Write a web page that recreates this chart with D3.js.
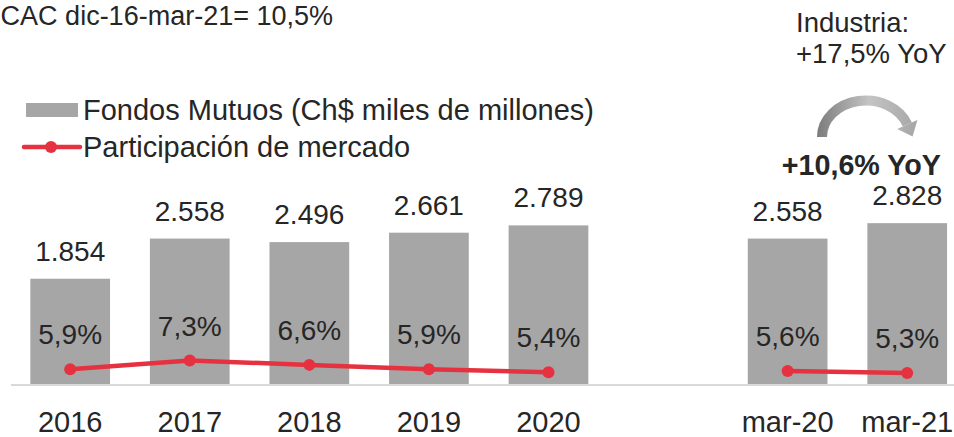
<!DOCTYPE html>
<html>
<head>
<meta charset="utf-8">
<script src="https://cdn.jsdelivr.net/npm/d3@7"></script>
<style>
  html, body { margin: 0; padding: 0; background: #fff; }
  svg { display: block; font-family: "Liberation Sans", Arial, sans-serif; }
</style>
</head>
<body>
<svg id="chart" width="954" height="437"></svg>
<script>
// ---- data ----
const categories = ["2016", "2017", "2018", "2019", "2020", "mar-20", "mar-21"];
const fondos = [1854, 2558, 2496, 2661, 2789, 2558, 2828];      // Ch$ miles de millones
const participacion = [5.9, 7.3, 6.6, 5.9, 5.4, 5.6, 5.3];      // %
const lineGroups = [["2016", "2017", "2018", "2019", "2020"], ["mar-20", "mar-21"]];
const titleText = "CAC dic-16-mar-21= 10,5%";
const legendLabels = ["Fondos Mutuos (Ch$ miles de millones)", "Participación de mercado"];
const industriaText = ["Industria:", "+17,5% YoY"];
const yoyText = "+10,6% YoY";

// ---- setup ----
const svg = d3.select("#chart");
const barColor = "#a6a6a6";
const red = "#e63240";
const textColor = "#262626";
const fs = 28;

const locale = d3.formatLocale({ decimal: ",", thousands: ".", grouping: [3], currency: ["$", ""] });
const fmtInt = locale.format(",d");
const fmtPct = v => locale.format(".1f")(v) + "%";

const slots = categories.slice(0, 5).concat(["_gap"], categories.slice(5));
const x = d3.scaleBand().domain(slots).range([10.4, 967]).paddingInner(1 / 3).paddingOuter(1 / 6);
const y = d3.scaleLinear().domain([0, 6000]).range([384.5, 42.2]);
const y2 = d3.scaleLinear().domain([0, 10]).range([405.8, 343.8]);

const rows = categories.map((c, i) => ({ c, v: fondos[i], p: participacion[i] }));

// bars
svg.append("g").selectAll("rect").data(rows).join("rect")
  .attr("x", d => x(d.c))
  .attr("y", d => y(d.v))
  .attr("width", x.bandwidth())
  .attr("height", d => y(0) - y(d.v))
  .attr("fill", barColor);

// axis
const axis = svg.append("g")
  .attr("transform", `translate(0,${y(0)})`)
  .call(d3.axisBottom(x).tickValues(categories).tickSize(0).tickPadding(27));
axis.select(".domain").attr("stroke", "#d9d9d9").attr("stroke-width", 2);
axis.selectAll("text").attr("font-size", 29).attr("fill", textColor)
  .attr("font-family", "Liberation Sans, Arial, sans-serif");

// bar value labels
svg.append("g").selectAll("text").data(rows).join("text")
  .attr("x", d => x(d.c) + x.bandwidth() / 2)
  .attr("y", d => y(d.v) - 18)
  .attr("text-anchor", "middle")
  .attr("font-size", fs)
  .attr("fill", textColor)
  .text(d => fmtInt(d.v));

// line segments
const line = d3.line().x(d => x(d.c) + x.bandwidth() / 2).y(d => y2(d.p));
lineGroups.forEach(g => {
  const seg = rows.filter(r => g.includes(r.c));
  svg.append("path").datum(seg)
    .attr("d", line)
    .attr("fill", "none")
    .attr("stroke", red)
    .attr("stroke-width", 4.5)
    .attr("stroke-linejoin", "round");
});
svg.append("g").selectAll("circle").data(rows).join("circle")
  .attr("cx", d => x(d.c) + x.bandwidth() / 2)
  .attr("cy", d => y2(d.p))
  .attr("r", 6)
  .attr("fill", red);

// percentage labels
svg.append("g").selectAll("text").data(rows).join("text")
  .attr("x", d => x(d.c) + x.bandwidth() / 2)
  .attr("y", d => y2(d.p) - 25)
  .attr("text-anchor", "middle")
  .attr("font-size", fs)
  .attr("fill", textColor)
  .text(d => fmtPct(d.p));

// title
svg.append("text").attr("x", 333).attr("y", 25).attr("text-anchor", "end")
  .attr("font-size", 27).attr("fill", textColor).text(titleText);

// legend
svg.append("rect").attr("x", 26).attr("y", 103).attr("width", 52).attr("height", 14).attr("fill", barColor);
svg.append("text").attr("x", 83).attr("y", 120).attr("font-size", 29).attr("fill", textColor).text(legendLabels[0]);
svg.append("line").attr("x1", 24).attr("x2", 80).attr("y1", 147).attr("y2", 147)
  .attr("stroke", red).attr("stroke-width", 4.5).attr("stroke-linecap", "round");
svg.append("circle").attr("cx", 51).attr("cy", 147).attr("r", 6).attr("fill", red);
svg.append("text").attr("x", 83).attr("y", 157).attr("font-size", 29).attr("fill", textColor).text(legendLabels[1]);

// industria annotation
svg.append("text").attr("x", 796).attr("y", 32).attr("font-size", 27.5).attr("fill", textColor).text(industriaText[0]);
svg.append("text").attr("x", 796).attr("y", 63).attr("font-size", 27.5).attr("fill", textColor).text(industriaText[1]);
svg.append("text").attr("x", 941).attr("y", 175).attr("text-anchor", "end")
  .attr("font-size", 28.7).attr("font-weight", "bold").attr("fill", textColor).text(yoyText);

// curved arrow
const defs = svg.append("defs");
const grad = defs.append("linearGradient").attr("id", "arrowGrad")
  .attr("gradientUnits", "userSpaceOnUse")
  .attr("x1", 816).attr("y1", 0).attr("x2", 922).attr("y2", 0);
grad.append("stop").attr("offset", "0%").attr("stop-color", "#7a7a7a");
grad.append("stop").attr("offset", "50%").attr("stop-color", "#c4c4c4");
grad.append("stop").attr("offset", "100%").attr("stop-color", "#a3a3a3");

const cx = 866, cy = 137, rx = 44, ry = 36.5, th = 20 * Math.PI / 180;
const ex = cx + rx * Math.cos(th), ey = cy - ry * Math.sin(th);
svg.append("path")
  .attr("d", `M${cx - rx},${cy} A${rx},${ry} 0 0 1 ${ex},${ey}`)
  .attr("fill", "none").attr("stroke", "url(#arrowGrad)").attr("stroke-width", 10);
const dx = rx * Math.sin(th), dy = ry * Math.cos(th), n = Math.hypot(dx, dy);
const ux = dx / n, uy = dy / n;
const tip = [ex + ux * 13, ey + uy * 13];
const b1 = [ex + uy * 11, ey - ux * 11], b2 = [ex - uy * 11, ey + ux * 11];
svg.append("path")
  .attr("d", `M${b1[0]},${b1[1]} L${tip[0]},${tip[1]} L${b2[0]},${b2[1]} Z`)
  .attr("fill", "url(#arrowGrad)");
</script>
</body>
</html>
